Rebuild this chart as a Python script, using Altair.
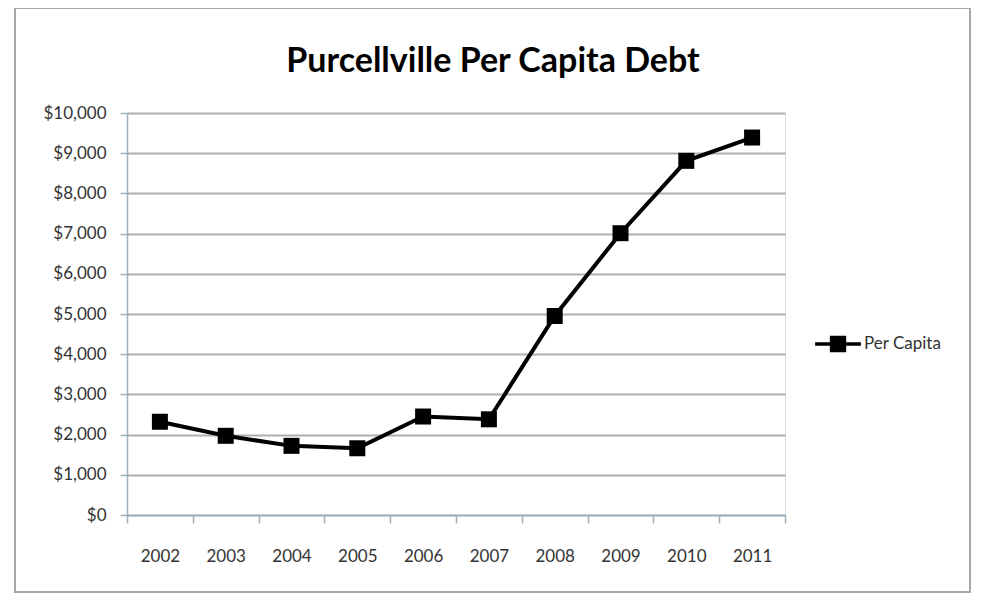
import altair as alt
import pandas as pd

years = ["2002", "2003", "2004", "2005", "2006", "2007", "2008", "2009", "2010", "2011"]
per_capita = [2320, 1970, 1720, 1660, 2450, 2380, 4950, 7010, 8810, 9390]
series_name = "Per Capita"
y_ticks = [0, 1000, 2000, 3000, 4000, 5000, 6000, 7000, 8000, 9000, 10000]
title_text = "Purcellville Per Capita Debt"

df = pd.DataFrame({"Year": years, "Debt": per_capita, "Series": [series_name] * len(years)})

FONT = "Lato"
LABEL_COLOR = "#333333"
AXIS_COLOR = "#9fb0bd"

x_enc = alt.X(
    "Year:O",
    scale=alt.Scale(type="band", paddingInner=0, paddingOuter=0),
    axis=alt.Axis(
        title=None, labelAngle=0, labelFont=FONT, labelFontSize=17, labelColor=LABEL_COLOR,
        labelPadding=25, tickBand="extent", tickSize=8, tickColor=AXIS_COLOR, tickWidth=1.5,
        domainColor=AXIS_COLOR, domainWidth=1.5, grid=False,
    ),
)
y_enc = alt.Y(
    "Debt:Q",
    scale=alt.Scale(domain=[0, 10000], nice=False),
    axis=alt.Axis(
        title=None, values=y_ticks, format="$,d", labelFont=FONT, labelFontSize=17,
        labelColor=LABEL_COLOR, labelPadding=14, tickSize=7, tickColor=AXIS_COLOR, tickWidth=1.5,
        domainColor=AXIS_COLOR, domainWidth=1.5, grid=True, gridColor="#aab0b5", gridWidth=1.8,
    ),
)

color_enc = alt.Color(
    "Series:N",
    scale=alt.Scale(domain=[series_name], range=["black"]),
    legend=alt.Legend(
        title=None, orient="none", legendX=686, legendY=206,
        symbolType="M-1,0H1M-0.28,-0.28H0.28V0.28H-0.28Z", symbolSize=2100,
        symbolStrokeWidth=3.5, symbolStrokeColor="black", symbolFillColor="black",
        labelFont=FONT, labelFontSize=17, labelColor=LABEL_COLOR, labelOffset=1,
    ),
)

base = alt.Chart(df)
line = base.mark_line(strokeWidth=4).encode(x=x_enc, y=y_enc, color=color_enc)
points = base.mark_point(shape="square", filled=True, size=256, opacity=1).encode(
    x=x_enc, y=y_enc, color=color_enc
)

frame = alt.Chart(pd.DataFrame({"f": [0]})).mark_rect(
    fillOpacity=0, stroke="#a7a7a7", strokeWidth=2
).encode(x=alt.value(-112), x2=alt.value(843), y=alt.value(-105), y2=alt.value(479))

chart = alt.layer(frame, line, points).properties(
    width=658,
    height=402,
    title=alt.TitleParams(
        title_text, font=FONT, fontSize=34, fontWeight="bold", color="black",
        anchor="middle", dx=37, offset=-72,
    ),
    autosize=alt.AutoSizeParams(type="none"),
    padding={"left": 119, "top": 105, "right": 189, "bottom": 80},
).configure_view(stroke=None).configure(background="white")

chart.save("out.html", embed_options={"renderer": "svg", "actions": False})
